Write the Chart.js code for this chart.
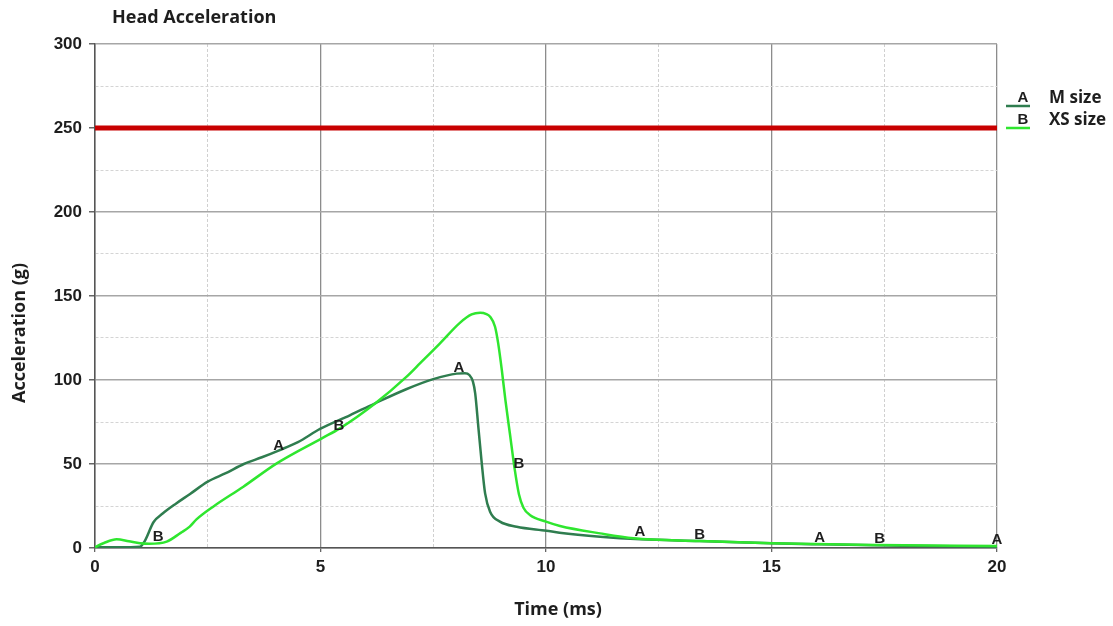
<!DOCTYPE html>
<html>
<head>
<meta charset="utf-8">
<script src="https://cdn.jsdelivr.net/npm/chart.js@4.4.1/dist/chart.umd.min.js"></script>
<style>
html,body{margin:0;padding:0;background:#fff;}
#wrap{position:relative;width:1113px;height:626px;}
</style>
</head>
<body>
<div id="wrap"><canvas id="c" width="1113" height="626"></canvas></div>
<script>
// ---- data ----
const timeA  = [0, 0.5, 1.0, 1.1, 1.3, 1.5, 1.8, 2.1, 2.5, 2.9, 3.3, 3.7, 4.07, 4.5, 5.0, 5.65, 6.2, 6.9, 7.5, 8.02, 8.2, 8.3, 8.38, 8.43, 8.5, 8.57, 8.65, 8.76, 8.98, 9.35, 10.01, 10.3, 11.2, 12.1, 13.4, 15.0, 16.1, 17.9, 19.0, 20];
const accelA = [0.5, 0.5, 0.8, 4, 15.5, 20.5, 26.5, 32, 39.5, 44.5, 50, 54, 58, 63, 71, 79, 86, 94.5, 100.5, 103.8, 104, 103, 99, 92, 72, 52, 32.5, 21.6, 15.7, 12.7, 10.3, 9.1, 6.7, 5.2, 4.2, 2.8, 2.2, 1.4, 1.0, 0.8];
const timeB  = [0, 0.2, 0.48, 0.75, 1.0, 1.2, 1.59, 1.9, 2.1, 2.25, 2.62, 3.29, 4.03, 5.03, 5.43, 6.21, 6.91, 7.21, 7.65, 8.09, 8.35, 8.54, 8.68, 8.76, 8.87, 8.94, 9.02, 9.1, 9.2, 9.3, 9.4, 9.5, 9.65, 10.0, 10.31, 11.2, 11.94, 13.4, 15.0, 17.33, 20];
const accelB = [0.5, 3, 5.2, 4, 2.8, 2.5, 3.8, 9, 12.7, 17, 24.6, 36.5, 50.4, 65.3, 71.2, 86, 102, 110, 121.8, 134, 139, 140, 139.2, 137.7, 131.7, 121.8, 106, 88, 68, 48, 32, 24, 19.5, 15.7, 13.1, 8.7, 5.8, 4.2, 2.8, 1.8, 1.2];
const limitT = [0, 20];
const limitV = [250, 250];
// curve marker letters (data coordinates of label centres)
const labelAT = [4.07, 8.07, 12.08, 16.07, 20.0];
const labelAV = [61, 107.5, 9.5, 6, 4.8];
const labelBT = [1.4, 5.41, 9.4, 13.41, 17.4];
const labelBV = [6.5, 73, 50, 7.7, 5.4];
const seriesNames = ['M size', 'XS size'];
const seriesLetters = ['A', 'B'];
const xTickLabels = [0, 5, 10, 15, 20];
const yTickLabels = [0, 50, 100, 150, 200, 250, 300];

const colA = '#2f7d4f';
const colB = '#2fe62f';
const textCol = '#1e1e1e';

const toXY = (ts, vs) => ts.map((t, i) => ({x: t, y: vs[i]}));

const isMajorX = v => xTickLabels.includes(v);
const isMajorY = v => yTickLabels.includes(v);

const overlay = {
  id: 'overlay',
  afterDatasetsDraw(chart) {
    const ctx = chart.ctx;
    const xs = chart.scales.x, ys = chart.scales.y;
    ctx.save();
    ctx.fillStyle = textCol;
    ctx.font = 'bold 15px "Liberation Sans", Arial, sans-serif';
    ctx.textAlign = 'center';
    ctx.textBaseline = 'middle';
    labelAT.forEach((t, i) => ctx.fillText(seriesLetters[0], xs.getPixelForValue(t), ys.getPixelForValue(labelAV[i])));
    labelBT.forEach((t, i) => ctx.fillText(seriesLetters[1], xs.getPixelForValue(t), ys.getPixelForValue(labelBV[i])));
    ctx.restore();
  },
  afterDraw(chart) {
    const ctx = chart.ctx;
    ctx.save();
    // title
    ctx.fillStyle = textCol;
    ctx.font = 'bold 18px "Open Sans", Lato, sans-serif';
    ctx.textAlign = 'left';
    ctx.textBaseline = 'middle';
    ctx.fillText('Head Acceleration', 112, 18);
    // axis titles
    ctx.font = 'bold 18px "Open Sans", Lato, sans-serif';
    ctx.textAlign = 'center';
    ctx.fillText('Time (ms)', 558, 610);
    ctx.save();
    ctx.translate(20, 333);
    ctx.rotate(-Math.PI / 2);
    ctx.fillText('Acceleration (g)', 0, 0);
    ctx.restore();
    // legend
    const cols = [colA, colB];
    const rowsY = [98, 120];
    for (let i = 0; i < 2; i++) {
      ctx.strokeStyle = cols[i];
      ctx.lineWidth = 2.5;
      ctx.beginPath();
      ctx.moveTo(1006, rowsY[i] + 8);
      ctx.lineTo(1030, rowsY[i] + 8);
      ctx.stroke();
      ctx.fillStyle = textCol;
      ctx.font = 'bold 15px "Liberation Sans", Arial, sans-serif';
      ctx.textAlign = 'center';
      ctx.fillText(seriesLetters[i], 1023, rowsY[i]);
      ctx.font = 'bold 17px "Open Sans", Lato, sans-serif';
      ctx.textAlign = 'left';
      ctx.fillText(seriesNames[i], 1049, rowsY[i]);
    }
    ctx.restore();
  }
};

new Chart(document.getElementById('c'), {
  type: 'line',
  data: {
    datasets: [
      {label: 'Limit', data: toXY(limitT, limitV), borderColor: '#c80000', borderWidth: 5, pointRadius: 0, order: 3},
      {label: seriesNames[0], data: toXY(timeA, accelA), borderColor: colA, borderWidth: 2.5, pointRadius: 0, cubicInterpolationMode: 'monotone', order: 2},
      {label: seriesNames[1], data: toXY(timeB, accelB), borderColor: colB, borderWidth: 2.5, pointRadius: 0, cubicInterpolationMode: 'monotone', order: 1}
    ]
  },
  options: {
    responsive: false,
    animation: false,
    layout: {padding: {left: 0, right: 116, top: 44, bottom: 0}},
    plugins: {legend: {display: false}, title: {display: false}, tooltip: {enabled: false}},
    scales: {
      x: {
        type: 'linear', min: 0, max: 20,
        afterFit: s => { s.height = 78; },
        ticks: {
          stepSize: 2.5, autoSkip: false, maxRotation: 0, padding: 5,
          color: textCol,
          font: {family: '"Liberation Sans", Arial, sans-serif', size: 17, weight: 'bold'},
          callback: v => isMajorX(v) ? String(v) : ''
        },
        grid: {
          color: c => (c.tick && isMajorX(c.tick.value)) ? '#8c8c8c' : '#d0d0d0',
          lineWidth: c => (c.tick && isMajorX(c.tick.value)) ? 1.3 : 1,
          tickLength: 4,
          tickColor: c => (c.tick && isMajorX(c.tick.value)) ? '#666' : 'rgba(0,0,0,0)'
        },
        border: {
          color: '#555', width: 1.5,
          dash: c => (c.tick && !isMajorX(c.tick.value)) ? [3, 2] : []
        }
      },
      y: {
        type: 'linear', min: 0, max: 300,
        afterFit: s => { s.width = 95; },
        ticks: {
          stepSize: 25, autoSkip: false, padding: 7,
          color: textCol,
          font: {family: '"Liberation Sans", Arial, sans-serif', size: 17, weight: 'bold'},
          callback: v => isMajorY(v) ? String(v) : ''
        },
        grid: {
          color: c => (c.tick && isMajorY(c.tick.value)) ? '#a6a6a6' : '#d4d4d4',
          lineWidth: c => (c.tick && isMajorY(c.tick.value)) ? 1.5 : 1,
          tickLength: 6,
          tickColor: c => (c.tick && isMajorY(c.tick.value)) ? '#666' : 'rgba(0,0,0,0)'
        },
        border: {
          color: '#555', width: 1.5,
          dash: c => (c.tick && !isMajorY(c.tick.value)) ? [3, 2] : []
        }
      }
    }
  },
  plugins: [overlay]
});
</script>
</body>
</html>
